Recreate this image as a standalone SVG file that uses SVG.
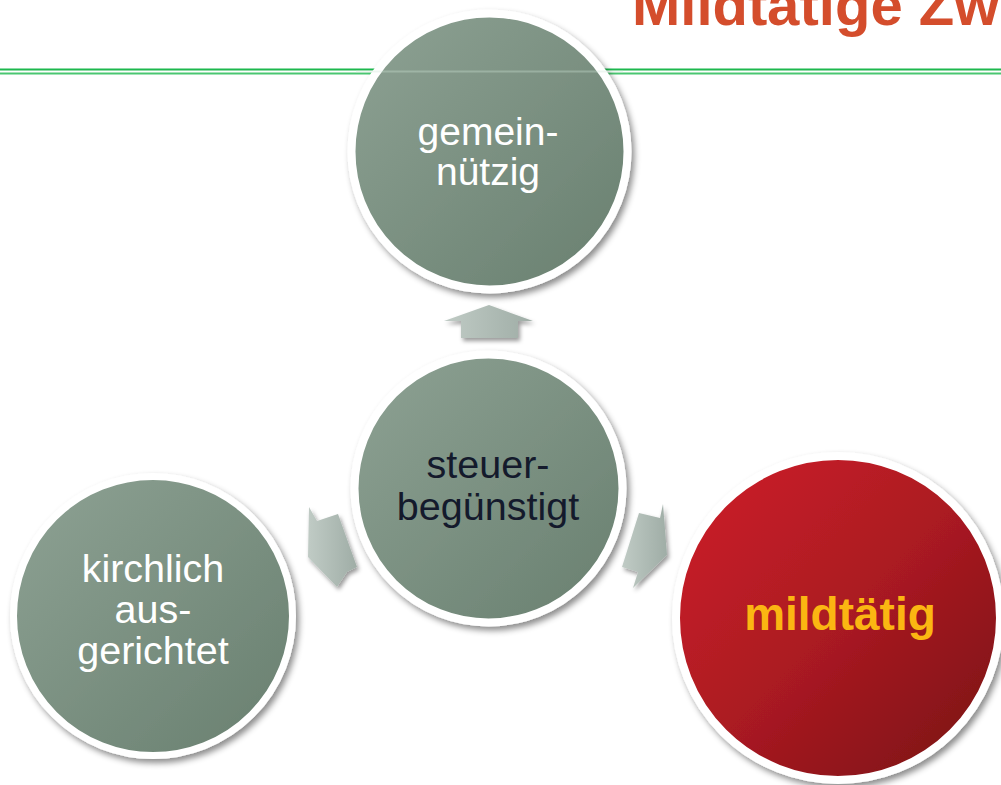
<svg xmlns="http://www.w3.org/2000/svg" width="1001" height="785" viewBox="0 0 1001 785">
  <defs>
    <linearGradient id="gGreen" x1="0" y1="0" x2="1" y2="1">
      <stop offset="0" stop-color="#8ea294"/>
      <stop offset="1" stop-color="#687f6f"/>
    </linearGradient>
    <linearGradient id="gRed" x1="0" y1="0" x2="1" y2="1">
      <stop offset="0" stop-color="#d0202a"/>
      <stop offset="0.5" stop-color="#ab1a22"/>
      <stop offset="1" stop-color="#761014"/>
    </linearGradient>
    <linearGradient id="gArrow" x1="0" y1="0" x2="1" y2="0">
      <stop offset="0" stop-color="#c0cbc5"/>
      <stop offset="1" stop-color="#9fada6"/>
    </linearGradient>
    <filter id="shadow" x="-10%" y="-10%" width="125%" height="125%">
      <feDropShadow dx="3" dy="4" stdDeviation="3" flood-color="#000" flood-opacity="0.45"/>
    </filter>
    <filter id="ashadow" x="-20%" y="-20%" width="150%" height="150%">
      <feDropShadow dx="2" dy="3" stdDeviation="2" flood-color="#000" flood-opacity="0.4"/>
    </filter>
  </defs>
  <style>
    .ring { stroke: #ffffff; }
    .lbl { font-family: "Liberation Sans", Arial, sans-serif; text-anchor: middle; }
    .light { fill: #ffffff; }
    .dark { fill: #141a2c; }
    .arrow { fill: url(#gArrow); filter: url(#ashadow); }
    .rule { stroke: #1db84e; stroke-width: 1.8; }
  </style>

  <rect width="1001" height="785" fill="#ffffff"/>

  <!-- header title and double rule -->
  <text x="632" y="25" font-family="Liberation Sans, Arial, sans-serif" font-weight="bold" font-size="58" fill="#d44d2c">Mildtätige Zw</text>
  <line class="rule" x1="0" y1="69.5" x2="1001" y2="69.5"/>
  <line class="rule" x1="0" y1="73.5" x2="1001" y2="73.5" stroke-opacity="0.8"/>

  <!-- connectors -->
  <g id="connectors">
    <polygon class="arrow" points="489,305 533,321 518,321 518,338 461,338 461,321 444,321"/>
    <polygon class="arrow" points="309,507 317,521 338,514 357,567 347,572 337,587 308,557"/>
    <polygon class="arrow" points="663,504 660,518 639,513 622,567 638,572 633,588 667,555"/>
  </g>

  <!-- nodes -->
  <g id="node-gemeinnuetzig">
    <circle cx="489.5" cy="151.5" r="138" fill="url(#gGreen)" class="ring" stroke-width="8" filter="url(#shadow)"/>
    <line x1="356" y1="71.5" x2="623" y2="71.5" stroke="#cfe6d6" stroke-opacity="0.35" stroke-width="2"/>
    <text class="lbl light" font-size="39"><tspan x="488" y="145">gemein-</tspan><tspan x="488" y="185">nützig</tspan></text>
  </g>

  <g id="node-steuerbeguenstigt">
    <circle cx="488.5" cy="488.5" r="134" fill="url(#gGreen)" class="ring" stroke-width="8" filter="url(#shadow)"/>
    <text class="lbl dark" font-size="39.5"><tspan x="488" y="478">steuer-</tspan><tspan x="488" y="520">begünstigt</tspan></text>
  </g>

  <g id="node-kirchlich">
    <circle cx="153" cy="616" r="139.5" fill="url(#gGreen)" class="ring" stroke-width="7" filter="url(#shadow)"/>
    <text class="lbl light" font-size="39.5"><tspan x="153" y="582">kirchlich</tspan><tspan x="153" y="623">aus-</tspan><tspan x="153" y="664">gerichtet</tspan></text>
  </g>

  <g id="node-mildtaetig">
    <circle cx="838" cy="618" r="162" fill="url(#gRed)" class="ring" stroke-width="8" filter="url(#shadow)"/>
    <text class="lbl" x="840" y="630" font-size="46" font-weight="bold" fill="#fbb612">mildtätig</text>
  </g>
</svg>
